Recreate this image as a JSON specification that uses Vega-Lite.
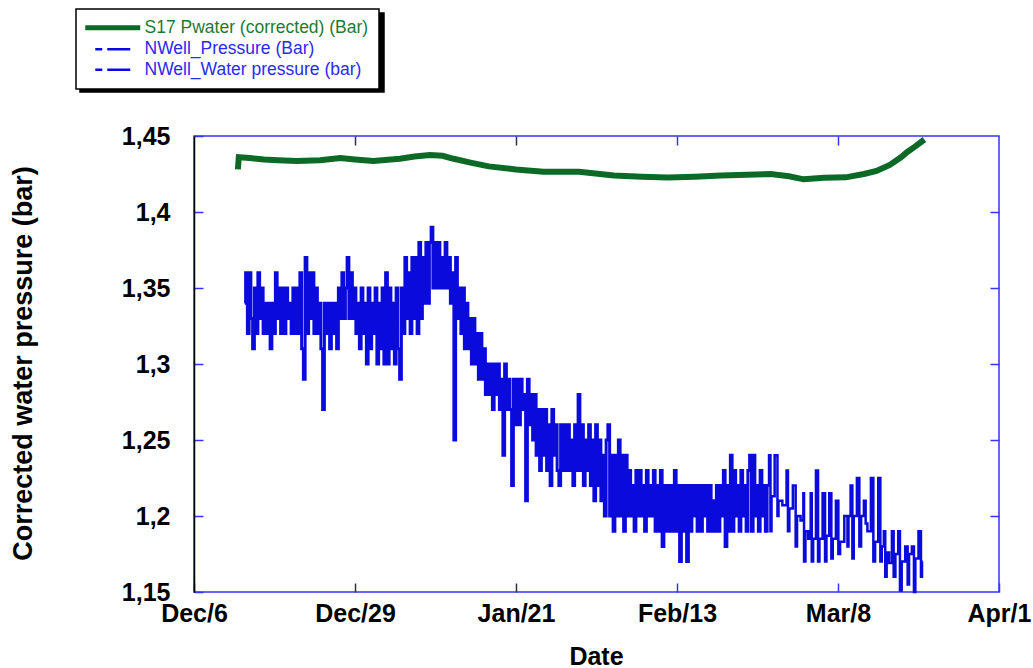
{
  "$schema": "https://vega.github.io/schema/vega-lite/v6.json",
  "width": 805,
  "height": 456,
  "autosize": {"type": "none"},
  "padding": {"left": 194, "top": 136, "right": 34, "bottom": 76},
  "background": "#ffffff",
  "config": {
    "view": {"stroke": "#3434ff", "strokeWidth": 1.5},
    "font": "Liberation Sans",
    "legend": {"strokeWidth": 1.5}
  },
  "datasets": {
    "green": [
      {"d": 6.3, "v": 1.43}, {"d": 6.4, "v": 1.436}, {"d": 8, "v": 1.4355}, {"d": 10, "v": 1.4345}, {"d": 12, "v": 1.434},
      {"d": 14.7, "v": 1.4335}, {"d": 18, "v": 1.434}, {"d": 20.9, "v": 1.4355}, {"d": 23, "v": 1.4345}, {"d": 25.6, "v": 1.4335},
      {"d": 29.4, "v": 1.435}, {"d": 31.5, "v": 1.4365}, {"d": 33.7, "v": 1.4375}, {"d": 35.5, "v": 1.437}, {"d": 37.1, "v": 1.435},
      {"d": 39.5, "v": 1.4325}, {"d": 42.1, "v": 1.43}, {"d": 46, "v": 1.428}, {"d": 49.9, "v": 1.4265}, {"d": 55, "v": 1.4265},
      {"d": 60, "v": 1.424}, {"d": 64, "v": 1.4232}, {"d": 67.7, "v": 1.4227}, {"d": 71.5, "v": 1.4232}, {"d": 75.3, "v": 1.424},
      {"d": 79, "v": 1.4245}, {"d": 82.4, "v": 1.425}, {"d": 85, "v": 1.4235}, {"d": 87.1, "v": 1.4215}, {"d": 90, "v": 1.4225},
      {"d": 93.1, "v": 1.4228}, {"d": 95.7, "v": 1.425}, {"d": 97.5, "v": 1.427}, {"d": 99.4, "v": 1.431}, {"d": 101, "v": 1.436},
      {"d": 101.9, "v": 1.4395}, {"d": 103, "v": 1.443}, {"d": 104, "v": 1.4465}
    ],
    "pressure": [
      {"d": 7.25, "v": 1.34}, {"d": 7.5, "v": 1.36}, {"d": 7.75, "v": 1.32}, {"d": 8.0, "v": 1.36}, {"d": 8.25, "v": 1.33}, {"d": 8.5, "v": 1.31}, {"d": 8.75, "v": 1.35}, {"d": 9.0, "v": 1.32}, {"d": 9.25, "v": 1.36}, {"d": 9.5, "v": 1.33}, {"d": 9.75, "v": 1.35}, {"d": 10.0, "v": 1.32}, {"d": 10.25, "v": 1.34},
      {"d": 10.5, "v": 1.32}, {"d": 10.75, "v": 1.34}, {"d": 11.0, "v": 1.31}, {"d": 11.25, "v": 1.34}, {"d": 11.5, "v": 1.32},
      {"d": 11.75, "v": 1.36}, {"d": 12.0, "v": 1.33}, {"d": 12.25, "v": 1.35}, {"d": 12.5, "v": 1.32}, {"d": 12.75, "v": 1.35},
      {"d": 13.0, "v": 1.32}, {"d": 13.25, "v": 1.35}, {"d": 13.5, "v": 1.33}, {"d": 13.75, "v": 1.34}, {"d": 14.0, "v": 1.32}, {"d": 14.25, "v": 1.35}, {"d": 14.5, "v": 1.32}, {"d": 14.75, "v": 1.35},
      {"d": 15.0, "v": 1.32}, {"d": 15.25, "v": 1.36}, {"d": 15.5, "v": 1.31}, {"d": 15.75, "v": 1.29}, {"d": 16.0, "v": 1.37}, {"d": 16.25, "v": 1.32}, {"d": 16.5, "v": 1.36}, {"d": 16.75, "v": 1.33}, {"d": 17.0, "v": 1.36}, {"d": 17.25, "v": 1.32}, {"d": 17.5, "v": 1.35}, {"d": 17.75, "v": 1.32},
      {"d": 18.0, "v": 1.34}, {"d": 18.25, "v": 1.31}, {"d": 18.5, "v": 1.27}, {"d": 18.75, "v": 1.34}, {"d": 19.0, "v": 1.32}, {"d": 19.25, "v": 1.34}, {"d": 19.5, "v": 1.31}, {"d": 19.75, "v": 1.34}, {"d": 20.0, "v": 1.32}, {"d": 20.25, "v": 1.34}, {"d": 20.5, "v": 1.31}, {"d": 20.75, "v": 1.35},
      {"d": 21.0, "v": 1.33}, {"d": 21.25, "v": 1.36}, {"d": 21.5, "v": 1.33}, {"d": 21.75, "v": 1.35}, {"d": 22.0, "v": 1.37}, {"d": 22.25, "v": 1.33}, {"d": 22.5, "v": 1.36}, {"d": 22.75, "v": 1.33},
      {"d": 23.0, "v": 1.35}, {"d": 23.25, "v": 1.32}, {"d": 23.5, "v": 1.34}, {"d": 23.75, "v": 1.31}, {"d": 24.0, "v": 1.35}, {"d": 24.25, "v": 1.32}, {"d": 24.5, "v": 1.34}, {"d": 24.75, "v": 1.30}, {"d": 25.0, "v": 1.35}, {"d": 25.25, "v": 1.31}, {"d": 25.5, "v": 1.34}, {"d": 25.75, "v": 1.32}, {"d": 26.0, "v": 1.35}, {"d": 26.25, "v": 1.30}, {"d": 26.5, "v": 1.34}, {"d": 26.75, "v": 1.31}, {"d": 27.0, "v": 1.35}, {"d": 27.25, "v": 1.30}, {"d": 27.5, "v": 1.36}, {"d": 27.75, "v": 1.30}, {"d": 28.0, "v": 1.35}, {"d": 28.25, "v": 1.31}, {"d": 28.5, "v": 1.34}, {"d": 28.75, "v": 1.30}, {"d": 29.0, "v": 1.35}, {"d": 29.25, "v": 1.31}, {"d": 29.5, "v": 1.29}, {"d": 29.75, "v": 1.35},
      {"d": 30.0, "v": 1.32}, {"d": 30.25, "v": 1.37}, {"d": 30.5, "v": 1.33}, {"d": 30.75, "v": 1.36}, {"d": 31.0, "v": 1.32}, {"d": 31.25, "v": 1.37}, {"d": 31.5, "v": 1.33}, {"d": 31.75, "v": 1.37},
      {"d": 32.0, "v": 1.32}, {"d": 32.25, "v": 1.38}, {"d": 32.5, "v": 1.33}, {"d": 32.75, "v": 1.37}, {"d": 33.0, "v": 1.34}, {"d": 33.25, "v": 1.38}, {"d": 33.5, "v": 1.34}, {"d": 33.75, "v": 1.38}, {"d": 34.0, "v": 1.39}, {"d": 34.25, "v": 1.35}, {"d": 34.5, "v": 1.38}, {"d": 34.75, "v": 1.35}, {"d": 35.0, "v": 1.38}, {"d": 35.25, "v": 1.35}, {"d": 35.5, "v": 1.37}, {"d": 35.75, "v": 1.35}, {"d": 36.0, "v": 1.38}, {"d": 36.25, "v": 1.35},
      {"d": 36.5, "v": 1.37}, {"d": 36.75, "v": 1.34}, {"d": 37.0, "v": 1.36}, {"d": 37.25, "v": 1.25}, {"d": 37.5, "v": 1.37}, {"d": 37.75, "v": 1.33},
      {"d": 38.0, "v": 1.35}, {"d": 38.25, "v": 1.32}, {"d": 38.5, "v": 1.35}, {"d": 38.75, "v": 1.31}, {"d": 39.0, "v": 1.34}, {"d": 39.25, "v": 1.31},
      {"d": 39.5, "v": 1.33}, {"d": 39.75, "v": 1.30}, {"d": 40.0, "v": 1.33}, {"d": 40.25, "v": 1.30}, {"d": 40.5, "v": 1.32}, {"d": 40.75, "v": 1.29}, {"d": 41.0, "v": 1.32}, {"d": 41.25, "v": 1.29},
      {"d": 41.5, "v": 1.31}, {"d": 41.75, "v": 1.28}, {"d": 42.0, "v": 1.30}, {"d": 42.25, "v": 1.28}, {"d": 42.5, "v": 1.30}, {"d": 42.75, "v": 1.27}, {"d": 43.0, "v": 1.30}, {"d": 43.25, "v": 1.28},
      {"d": 43.5, "v": 1.30}, {"d": 43.75, "v": 1.27}, {"d": 44.0, "v": 1.29}, {"d": 44.25, "v": 1.24}, {"d": 44.5, "v": 1.30}, {"d": 44.75, "v": 1.27}, {"d": 45.0, "v": 1.29}, {"d": 45.25, "v": 1.27}, {"d": 45.5, "v": 1.22},
      {"d": 45.75, "v": 1.29}, {"d": 46.0, "v": 1.26}, {"d": 46.25, "v": 1.29}, {"d": 46.5, "v": 1.26}, {"d": 46.75, "v": 1.29}, {"d": 47.0, "v": 1.27}, {"d": 47.25, "v": 1.28}, {"d": 47.5, "v": 1.21}, {"d": 47.75, "v": 1.29}, {"d": 48.0, "v": 1.26}, {"d": 48.25, "v": 1.28}, {"d": 48.5, "v": 1.25}, {"d": 48.75, "v": 1.28},
      {"d": 49.0, "v": 1.24}, {"d": 49.25, "v": 1.27}, {"d": 49.5, "v": 1.23}, {"d": 49.75, "v": 1.27}, {"d": 50.0, "v": 1.24}, {"d": 50.25, "v": 1.27}, {"d": 50.5, "v": 1.23}, {"d": 50.75, "v": 1.26}, {"d": 51.0, "v": 1.22}, {"d": 51.25, "v": 1.27}, {"d": 51.5, "v": 1.24}, {"d": 51.75, "v": 1.26}, {"d": 52.0, "v": 1.23}, {"d": 52.25, "v": 1.22}, {"d": 52.5, "v": 1.26}, {"d": 52.75, "v": 1.23}, {"d": 53.0, "v": 1.26},
      {"d": 53.25, "v": 1.23}, {"d": 53.5, "v": 1.26}, {"d": 53.75, "v": 1.23}, {"d": 54.0, "v": 1.25}, {"d": 54.25, "v": 1.22}, {"d": 54.5, "v": 1.26}, {"d": 54.75, "v": 1.23}, {"d": 55.0, "v": 1.28}, {"d": 55.25, "v": 1.23}, {"d": 55.5, "v": 1.26}, {"d": 55.75, "v": 1.22}, {"d": 56.0, "v": 1.25}, {"d": 56.25, "v": 1.23}, {"d": 56.5, "v": 1.26}, {"d": 56.75, "v": 1.22},
      {"d": 57.0, "v": 1.25}, {"d": 57.25, "v": 1.21}, {"d": 57.5, "v": 1.26}, {"d": 57.75, "v": 1.22}, {"d": 58.0, "v": 1.25}, {"d": 58.25, "v": 1.21}, {"d": 58.5, "v": 1.24}, {"d": 58.75, "v": 1.20}, {"d": 59.0, "v": 1.25}, {"d": 59.25, "v": 1.26}, {"d": 59.5, "v": 1.20}, {"d": 59.75, "v": 1.24}, {"d": 60.0, "v": 1.19}, {"d": 60.25, "v": 1.24}, {"d": 60.5, "v": 1.20}, {"d": 60.75, "v": 1.25}, {"d": 61.0, "v": 1.20}, {"d": 61.25, "v": 1.24}, {"d": 61.5, "v": 1.19}, {"d": 61.75, "v": 1.24},
      {"d": 62.0, "v": 1.20}, {"d": 62.25, "v": 1.23}, {"d": 62.5, "v": 1.20}, {"d": 62.75, "v": 1.22}, {"d": 63.0, "v": 1.19}, {"d": 63.25, "v": 1.23}, {"d": 63.5, "v": 1.20}, {"d": 63.75, "v": 1.23}, {"d": 64.0, "v": 1.20}, {"d": 64.25, "v": 1.22}, {"d": 64.5, "v": 1.19}, {"d": 64.75, "v": 1.23}, {"d": 65.0, "v": 1.20}, {"d": 65.25, "v": 1.22}, {"d": 65.5, "v": 1.20}, {"d": 65.75, "v": 1.23},
      {"d": 66.0, "v": 1.19}, {"d": 66.25, "v": 1.22}, {"d": 66.5, "v": 1.19}, {"d": 66.75, "v": 1.23}, {"d": 67.0, "v": 1.18}, {"d": 67.25, "v": 1.22}, {"d": 67.5, "v": 1.19}, {"d": 67.75, "v": 1.22}, {"d": 68.0, "v": 1.19}, {"d": 68.25, "v": 1.22}, {"d": 68.5, "v": 1.19}, {"d": 68.75, "v": 1.23}, {"d": 69.0, "v": 1.19}, {"d": 69.25, "v": 1.22}, {"d": 69.5, "v": 1.17}, {"d": 69.75, "v": 1.22}, {"d": 70.0, "v": 1.19}, {"d": 70.25, "v": 1.22}, {"d": 70.5, "v": 1.17}, {"d": 70.75, "v": 1.22}, {"d": 71.0, "v": 1.19}, {"d": 71.25, "v": 1.22}, {"d": 71.5, "v": 1.20}, {"d": 71.75, "v": 1.22}, {"d": 72.0, "v": 1.19}, {"d": 72.25, "v": 1.22},
      {"d": 72.5, "v": 1.19}, {"d": 72.75, "v": 1.22}, {"d": 73.0, "v": 1.20}, {"d": 73.25, "v": 1.22}, {"d": 73.5, "v": 1.19}, {"d": 73.75, "v": 1.22}, {"d": 74.0, "v": 1.19}, {"d": 74.25, "v": 1.21}, {"d": 74.5, "v": 1.19}, {"d": 74.75, "v": 1.22}, {"d": 75.0, "v": 1.19}, {"d": 75.25, "v": 1.22}, {"d": 75.5, "v": 1.20}, {"d": 75.75, "v": 1.23}, {"d": 76.0, "v": 1.18}, {"d": 76.25, "v": 1.22}, {"d": 76.5, "v": 1.19}, {"d": 76.75, "v": 1.24},
      {"d": 77.0, "v": 1.19}, {"d": 77.25, "v": 1.23}, {"d": 77.5, "v": 1.20}, {"d": 77.75, "v": 1.22}, {"d": 78.0, "v": 1.19}, {"d": 78.25, "v": 1.23}, {"d": 78.5, "v": 1.20}, {"d": 78.75, "v": 1.22}, {"d": 79.0, "v": 1.19}, {"d": 79.25, "v": 1.23}, {"d": 79.5, "v": 1.24}, {"d": 79.75, "v": 1.19}, {"d": 80.0, "v": 1.24}, {"d": 80.25, "v": 1.20}, {"d": 80.5, "v": 1.22}, {"d": 80.75, "v": 1.19}, {"d": 81.0, "v": 1.23}, {"d": 81.25, "v": 1.20}, {"d": 81.5, "v": 1.22}, {"d": 81.75, "v": 1.19}, {"d": 82.0, "v": 1.22}
    ],
    "water": [
      {"d": 81.5, "v": 1.215}, {"d": 82.0, "v": 1.22}, {"d": 82.3, "v": 1.24}, {"d": 82.4, "v": 1.19}, {"d": 82.6, "v": 1.213}, {"d": 83.3, "v": 1.24}, {"d": 83.4, "v": 1.20}, {"d": 83.6, "v": 1.21},
      {"d": 84.5, "v": 1.207}, {"d": 84.8, "v": 1.23}, {"d": 84.9, "v": 1.19}, {"d": 85.2, "v": 1.205}, {"d": 85.9, "v": 1.22}, {"d": 86.0, "v": 1.18}, {"d": 86.3, "v": 1.2},
      {"d": 87.0, "v": 1.197}, {"d": 87.1, "v": 1.215}, {"d": 87.2, "v": 1.17}, {"d": 87.5, "v": 1.19}, {"d": 88.0, "v": 1.185}, {"d": 88.2, "v": 1.215}, {"d": 88.3, "v": 1.17}, {"d": 88.6, "v": 1.185},
      {"d": 89.1, "v": 1.23}, {"d": 89.2, "v": 1.17}, {"d": 89.5, "v": 1.185}, {"d": 90.1, "v": 1.215}, {"d": 90.2, "v": 1.17}, {"d": 90.5, "v": 1.187}, {"d": 91.0, "v": 1.215}, {"d": 91.1, "v": 1.172}, {"d": 91.4, "v": 1.185},
      {"d": 92.0, "v": 1.21}, {"d": 92.1, "v": 1.175}, {"d": 92.5, "v": 1.183}, {"d": 93.3, "v": 1.20}, {"d": 93.4, "v": 1.18}, {"d": 93.6, "v": 1.2}, {"d": 94.0, "v": 1.22}, {"d": 94.1, "v": 1.172}, {"d": 94.4, "v": 1.2},
      {"d": 95.0, "v": 1.225}, {"d": 95.1, "v": 1.18}, {"d": 95.5, "v": 1.2}, {"d": 95.9, "v": 1.21}, {"d": 96.0, "v": 1.195}, {"d": 96.4, "v": 1.19}, {"d": 97.0, "v": 1.225}, {"d": 97.1, "v": 1.17}, {"d": 97.5, "v": 1.183},
      {"d": 98.0, "v": 1.225}, {"d": 98.1, "v": 1.17}, {"d": 98.4, "v": 1.18}, {"d": 98.7, "v": 1.19}, {"d": 98.8, "v": 1.16}, {"d": 99.1, "v": 1.176}, {"d": 99.5, "v": 1.169}, {"d": 99.9, "v": 1.19}, {"d": 100.0, "v": 1.16}, {"d": 100.4, "v": 1.175},
      {"d": 100.8, "v": 1.19}, {"d": 100.9, "v": 1.151}, {"d": 101.3, "v": 1.17}, {"d": 101.9, "v": 1.18}, {"d": 102.0, "v": 1.155}, {"d": 102.3, "v": 1.175}, {"d": 102.8, "v": 1.18}, {"d": 102.9, "v": 1.15}, {"d": 103.2, "v": 1.172}, {"d": 103.8, "v": 1.19}, {"d": 103.9, "v": 1.16}, {"d": 104.1, "v": 1.17}
    ]
  },
  "layer": [
    {
      "data": {"name": "green"},
      "mark": {"type": "line", "strokeWidth": 6, "strokeCap": "square"},
      "encoding": {
        "x": {
          "field": "d", "type": "quantitative",
          "scale": {"domain": [0, 115], "nice": false, "zero": false},
          "axis": {
            "orient": "bottom", "values": [0, 23, 46, 69, 92, 115],
            "labelExpr": "datum.value == 0 ? 'Dec/6' : datum.value == 23 ? 'Dec/29' : datum.value == 46 ? 'Jan/21' : datum.value == 69 ? 'Feb/13' : datum.value == 92 ? 'Mar/8' : 'Apr/1'",
            "domain": false, "grid": false,
            "tickSize": -9, "tickWidth": 1.5,
            "tickColor": {"condition": {"test": "datum.value < 50", "value": "#333333"}, "value": "#3434ff"},
            "labelFont": "Liberation Sans", "labelFontSize": 25, "labelFontWeight": "bold", "labelColor": "#000000",
            "labelPadding": 18, "labelBaseline": "top", "labelFlush": false, "labelOverlap": false,
            "title": "Date", "titleFont": "Liberation Sans", "titleFontSize": 25, "titleFontWeight": "bold", "titleColor": "#000000",
            "titleX": 402, "titleY": 64, "titleBaseline": "middle", "titleAlign": "center"
          }
        },
        "y": {
          "field": "v", "type": "quantitative",
          "scale": {"domain": [1.15, 1.45], "nice": false, "zero": false},
          "axis": {
            "orient": "left", "values": [1.15, 1.2, 1.25, 1.3, 1.35, 1.4, 1.45],
            "labelExpr": "replace(format(datum.value, '.2~f'), '.', ',')",
            "domain": true, "domainColor": "#000000", "domainWidth": 1.5, "grid": false,
            "tickSize": -9, "tickWidth": 1.5, "tickColor": "#3434ff",
            "labelFont": "Liberation Sans", "labelFontSize": 25, "labelFontWeight": "bold", "labelColor": "#000000",
            "labelPadding": 33, "labelBaseline": "middle", "labelFlush": false, "labelOverlap": false,
            "title": "Corrected water pressure (bar)", "titleFont": "Liberation Sans", "titleFontSize": 27, "titleFontWeight": "bold", "titleColor": "#000000",
            "titleX": -171, "titleY": 227, "titleAngle": -90, "titleBaseline": "middle", "titleAlign": "center"
          }
        },
        "color": {
          "datum": "S17 Pwater (corrected) (Bar)",
          "scale": {
            "domain": ["S17 Pwater (corrected) (Bar)", "NWell_Pressure (Bar)", "NWell_Water pressure (bar)"],
            "range": ["#0c6a26", "#0a0adc", "#0a0adc"]
          },
          "legend": {
            "orient": "none", "legendX": -118, "legendY": -127, "title": null, "zindex": 2,
            "strokeColor": "#000000", "fillColor": "#ffffff", "padding": 10,
            "symbolType": "stroke", "symbolStrokeWidth": 2.5, "symbolOffset": 18,
            "labelFont": "Liberation Sans", "labelFontSize": 17.5, "labelOffset": 23, "rowPadding": 1.5,
            "labelLimit": 400,
            "encode": {
              "symbols": {"update": {
                "strokeDash": {"signal": "datum.value === 'S17 Pwater (corrected) (Bar)' ? [1, 0] : [7, 5, 24, 5]"},
                "strokeWidth": {"signal": "datum.value === 'S17 Pwater (corrected) (Bar)' ? 5 : 2.5"},
                "size": {"signal": "datum.value === 'S17 Pwater (corrected) (Bar)' ? 3025 : 1225"}
              }},
              "labels": {"update": {
                "fill": {"signal": "datum.value === 'S17 Pwater (corrected) (Bar)' ? '#1d7a32' : '#2a2af2'"}
              }}
            }
          }
        }
      }
    },
    {
      "data": {"name": "pressure"},
      "mark": {"type": "line", "strokeWidth": 3, "interpolate": "step"},
      "encoding": {
        "x": {"field": "d", "type": "quantitative", "axis": null},
        "y": {"field": "v", "type": "quantitative", "axis": null},
        "color": {"datum": "NWell_Pressure (Bar)"}
      }
    },
    {
      "data": {"name": "water"},
      "mark": {"type": "line", "strokeWidth": 2.5, "interpolate": "step"},
      "encoding": {
        "x": {
          "field": "d", "type": "quantitative",
          "axis": {
            "orient": "top", "values": [23, 46, 69, 92], "labels": false, "domain": false, "grid": false,
            "tickSize": -9, "tickWidth": 1.5,
            "tickColor": {"condition": {"test": "datum.value < 50", "value": "#333333"}, "value": "#3434ff"},
            "title": null
          }
        },
        "y": {
          "field": "v", "type": "quantitative",
          "axis": {
            "orient": "right", "values": [1.2, 1.25, 1.3, 1.35, 1.4], "labels": false, "domain": false, "grid": false,
            "tickSize": -9, "tickWidth": 1.5, "tickColor": "#3434ff", "title": null
          }
        },
        "color": {"datum": "NWell_Water pressure (bar)"},
        "opacity": {
          "datum": "NWell_Water pressure (Bar)", "type": "nominal",
          "scale": {
            "domain": ["S17 Pwater (corrected) (Bar)", "NWell_Pressure (bar)", "NWell_Water pressure (Bar)"],
            "range": [1, 1, 1]
          },
          "legend": {
            "orient": "none", "legendX": -114, "legendY": -123, "title": null, "zindex": 1,
            "strokeColor": "#000000", "fillColor": "#000000", "padding": 10,
            "symbolType": "stroke", "symbolStrokeWidth": 2.5, "symbolOffset": 18,
            "labelFont": "Liberation Sans", "labelFontSize": 17.5, "labelOffset": 248, "rowPadding": 1.5,
            "labelLimit": 400, "labelColor": "#000000", "labelExpr": "''",
            "encode": {
              "symbols": {"update": {
                "opacity": {"value": 0},
                "size": {"signal": "datum.value === 'S17 Pwater (corrected) (Bar)' ? 3025 : 1225"}
              }}
            }
          }
        }
      }
    }
  ],
  "resolve": {"axis": {"x": "independent", "y": "independent"}}
}
